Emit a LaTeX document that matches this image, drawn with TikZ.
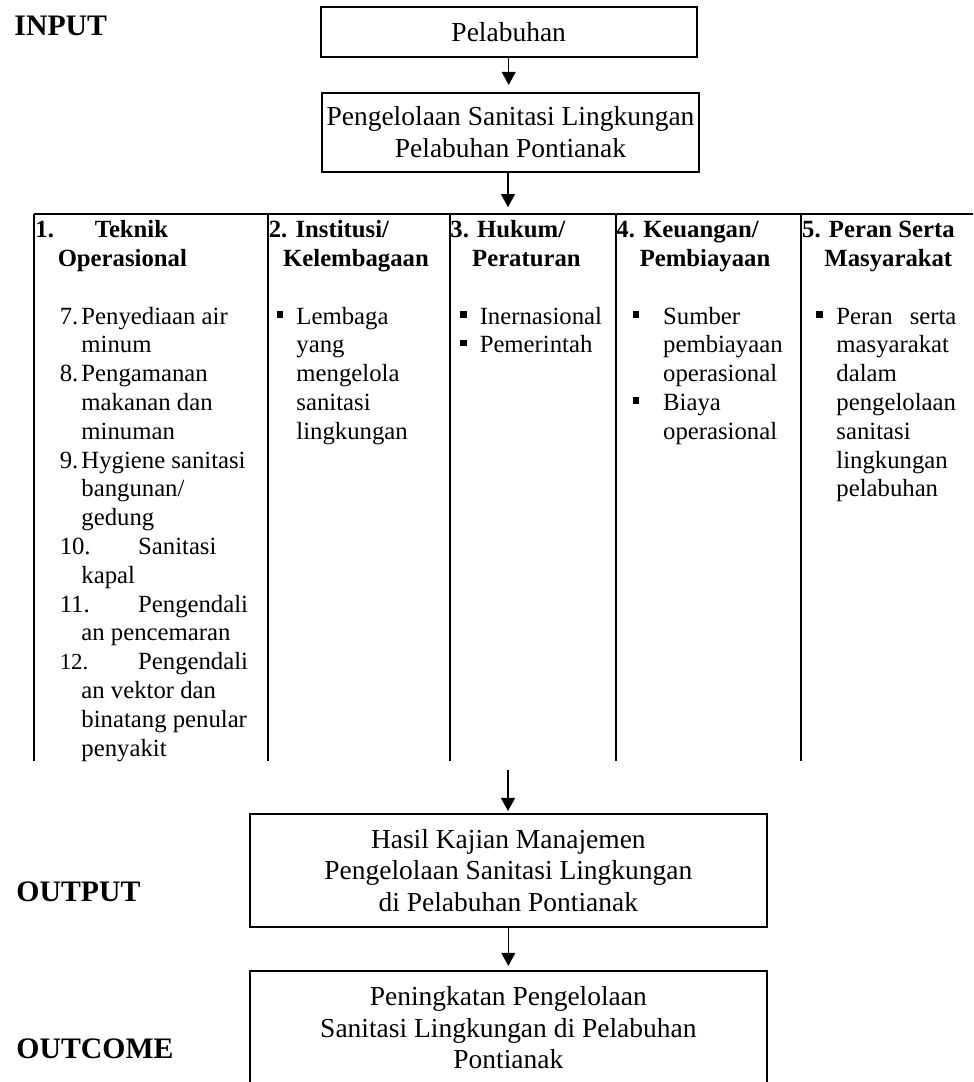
\documentclass[tikz,border=0pt]{standalone}
\usepackage{fontspec}
\setmainfont{Liberation Serif}
\usetikzlibrary{arrows.meta}
\newcommand\boxfont{\fontsize{12}{13.8}\selectfont}
\newcommand\cellfont{\fontsize{10.8}{12.6}\selectfont}
\newcommand\stagefont{\fontsize{13}{15}\selectfont\bfseries}
\begin{document}
\begin{tikzpicture}[x=0.4367pt,y=-0.4367pt,
  flowbox/.style={draw, line width=0.8pt, align=center, font=\boxfont, inner sep=0pt},
  cell/.style={anchor=base west, inner sep=0pt, font=\cellfont},
  head/.style={cell, font=\cellfont\bfseries},
  stage/.style={anchor=base west, inner sep=0pt, font=\stagefont},
  flow/.style={-{Triangle[width=6.1pt,length=5.7pt]}, line width=0.5pt},
  rule/.style={line width=1pt}]
\useasboundingbox (0,0) rectangle (973,1082);
\clip (0,0) rectangle (973,1082);

% stage labels
\node[stage] (lin)  at (14,36)    {INPUT};
\node[stage] (lout) at (16,901.7) {OUTPUT};
\node[stage] (loc)  at (16,1058.3){OUTCOME};

% flow boxes
\node[flowbox, minimum width=164.2pt, minimum height=22.1pt] (port) at (508.7,32) {Pelabuhan};
\node[flowbox, minimum width=164.9pt, minimum height=34.63pt] (mgmt) at (510.5,132.35)
  {Pengelolaan Sanitasi Lingkungan\\Pelabuhan Pontianak};
\node[flowbox, minimum width=225.64pt, minimum height=49.22pt] (result) at (508.35,870.35)
  {Hasil Kajian Manajemen\\Pengelolaan Sanitasi Lingkungan\\di Pelabuhan Pontianak};
\node[flowbox, minimum width=225.64pt, minimum height=49.78pt] (improve) at (508.35,1027.7)
  {Peningkatan Pengelolaan\\Sanitasi Lingkungan di Pelabuhan\\Pontianak};

\coordinate (tabtop) at (508,214);
\coordinate (tabout) at (508,770);

% column headers
\node[head] (h1a) at (35,237)      {1.};
\node[head] (h1b) at (94.3,237)    {Teknik};
\node[head] (h1c) at (57.3,266.7)  {Operasional};
\node[head] (h2a) at (268.3,237)   {2. Institusi/};
\node[head] (h2b) at (282.7,266.7) {Kelembagaan};
\node[head] (h3a) at (450,237)     {3. Hukum/};
\node[head] (h3b) at (471.7,266.7) {Peraturan};
\node[head] (h4a) at (616,237)     {4. Keuangan/};
\node[head] (h4b) at (639.3,266.7) {Pembiayaan};
\node[head] (h5a) at (801.7,237)   {5. Peran Serta};
\node[head] (h5b) at (824,266.7)   {Masyarakat};

% column 1: numbered items
\node[cell] (n7)  at (59.3,324)   {7.};
\node[cell] (n8)  at (59.3,381.6) {8.};
\node[cell] (n9)  at (59.3,468)   {9.};
\node[cell] (n10) at (59.3,554.4) {10.};
\node[cell] (n11) at (59.3,612)   {11.};
\node[cell, font=\fontsize{10}{12}\selectfont] (n12) at (59.3,669.6) {12.};
\node[cell] (s10) at (137.7,554.4) {Sanitasi};
\node[cell] (s11) at (137.7,612)   {Pengendali};
\node[cell] (s12) at (137.7,669.6) {Pengendali};
\foreach \k/\t in {0/Penyediaan air, 1/minum, 2/Pengamanan, 3/makanan dan, 4/minuman,
  5/Hygiene sanitasi, 6/bangunan\slash, 7/gedung, 9/kapal, 11/an pencemaran,
  13/an vektor dan, 14/binatang penular, 15/penyakit}
  \node[cell] (a\k) at (81,324+28.8*\k) {\t};

% column 2
\foreach \k/\t in {0/Lembaga, 1/yang, 2/mengelola, 3/sanitasi, 4/lingkungan}
  \node[cell] (b\k) at (296,324+28.8*\k) {\t};

% column 3
\foreach \k/\t in {0/Inernasional, 1/Pemerintah}
  \node[cell] (c\k) at (479.3,324+28.8*\k) {\t};

% column 4
\foreach \k/\t in {0/Sumber, 1/pembiayaan, 2/operasional, 3/Biaya, 4/operasional}
  \node[cell] (d\k) at (662.7,324+28.8*\k) {\t};

% column 5
\node[cell] (e0) at (836,324) {\makebox[52.4pt][s]{Peran serta}};
\foreach \k/\t in {1/masyarakat, 2/dalam, 3/pengelolaan, 4/sanitasi, 5/lingkungan, 6/pelabuhan}
  \node[cell] (e\k) at (836,324+28.8*\k) {\t};

% square bullets
\foreach \bx/\by in {276.7/324, 460/324, 460/352.8, 632.7/324, 632.7/410.4, 816/324}
  \fill (\bx,\by-13) rectangle ++(6.5,6.5);

% table rules
\draw[rule] (33.7,214) -- (980,214);
\foreach \xx in {33.7,267.7,450,616,800.7}
  \draw[rule] (\xx,214) -- (\xx,761);

% connectors
\draw[flow, shorten >=3pt] (port.south) -- (port.south |- mgmt.north);
\draw[flow, shorten >=3pt] (tabtop |- mgmt.south) -- (tabtop);
\draw[flow, shorten >=0.9pt] (tabout) -- (tabout |- result.north);
\draw[flow, shorten >=1.7pt] (result.south) -- (improve.north);
\end{tikzpicture}
\end{document}
